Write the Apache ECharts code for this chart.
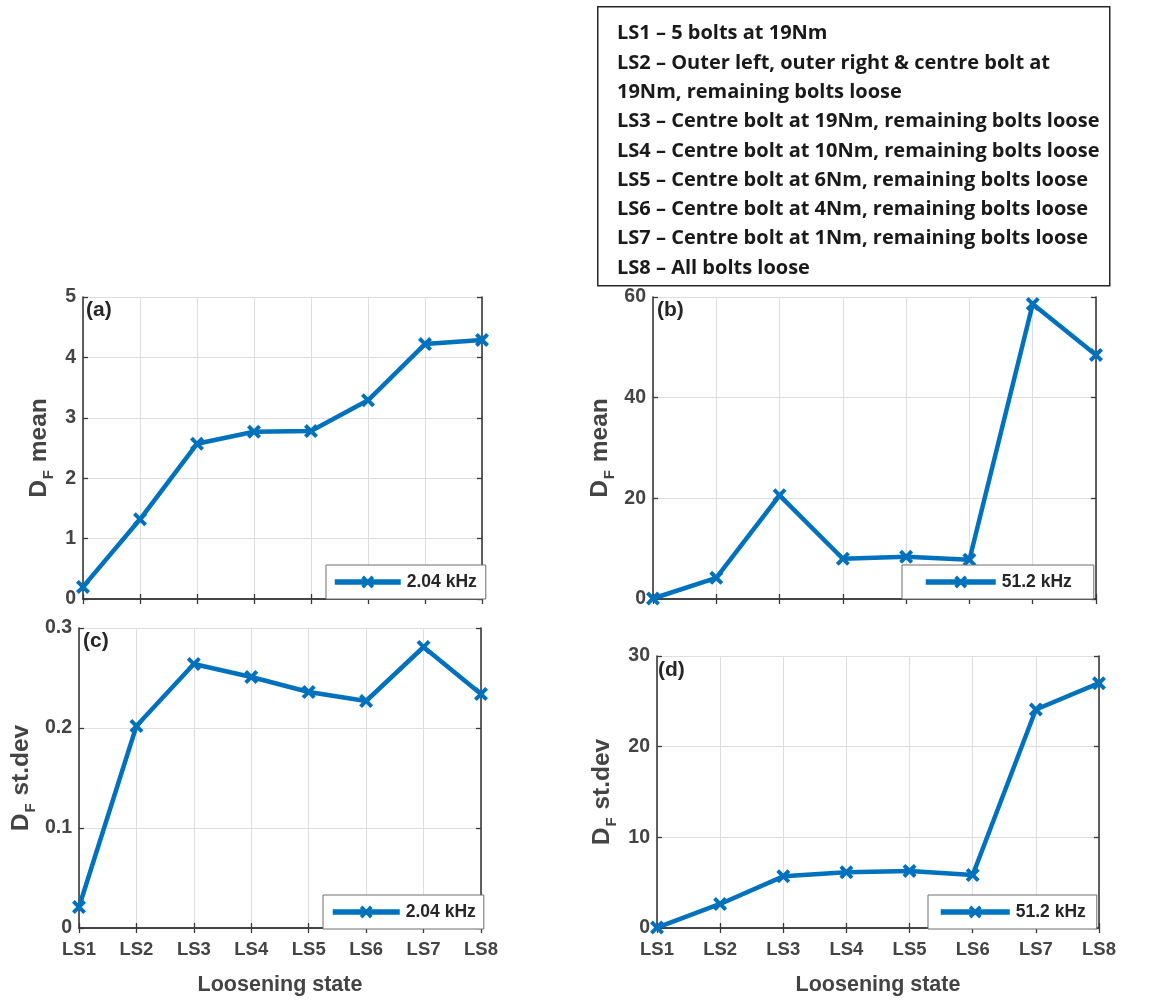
<!DOCTYPE html>
<html><head><meta charset="utf-8">
<script src="https://cdn.jsdelivr.net/npm/echarts@6/dist/echarts.min.js"></script>
<style>html,body{margin:0;padding:0;background:#fff}#c{width:1169px;height:1002px}</style>
</head><body><div id="c"></div>
<script>
// ---------- data ----------
const categories = ['LS1','LS2','LS3','LS4','LS5','LS6','LS7','LS8'];
const meanLow  = [0.20, 1.32, 2.57, 2.77, 2.78, 3.29, 4.22, 4.29];   // (a) 2.04 kHz
const meanHigh = [0.1, 4.2, 20.6, 8.0, 8.4, 7.8, 58.6, 48.5];        // (b) 51.2 kHz
const stdLow   = [0.021, 0.202, 0.264, 0.251, 0.236, 0.227, 0.281, 0.234]; // (c) 2.04 kHz
const stdHigh  = [0.05, 2.65, 5.7, 6.15, 6.3, 5.85, 24.1, 27.0];     // (d) 51.2 kHz
const lowName = '2.04 kHz';
const highName = '51.2 kHz';
const panelLabels = ['(a)','(b)','(c)','(d)'];
const yMax = [5, 60, 0.3, 30];
const yStep = [1, 20, 0.1, 10];
const yNames = ['mean','mean','st.dev','st.dev'];
const xName = 'Loosening state';
const boxLines = [
  'LS1 \u2013 5 bolts at 19Nm',
  'LS2 \u2013 Outer left, outer right & centre bolt at',
  '19Nm, remaining bolts loose',
  'LS3 \u2013 Centre bolt at 19Nm, remaining bolts loose',
  'LS4 \u2013 Centre bolt at 10Nm, remaining bolts loose',
  'LS5 \u2013 Centre bolt at 6Nm, remaining bolts loose',
  'LS6 \u2013 Centre bolt at 4Nm, remaining bolts loose',
  'LS7 \u2013 Centre bolt at 1Nm, remaining bolts loose',
  'LS8 \u2013 All bolts loose'
];

// ---------- style ----------
const FONT = '"Liberation Sans", Arial, sans-serif';
const BLUE = '#0072BD';
const AX = '#3a3a3a';
const LBL = '#444444';
const XSYM = 'path://M2,0 L5,3 L8,0 L10,2 L7,5 L10,8 L8,10 L5,7 L2,10 L0,8 L3,5 L0,2 Z';

const grids = [
  {left: 83, top: 297, width: 399, height: 302},
  {left: 653, top: 297, width: 443, height: 302},
  {left: 79, top: 628, width: 402, height: 300},
  {left: 657, top: 656, width: 442, height: 272}
];
const nameGaps = [29, 38, 43, 40];
const seriesData = [meanLow, meanHigh, stdLow, stdHigh];
const seriesNames = [lowName, highName, lowName, highName];
const legendCfg = [
  {left: 326, top: 565, itemWidth: 66, padding: [8, 9, 8, 6]},
  {left: 902, top: 565, itemWidth: 70, padding: [8, 22, 8, 21]},
  {left: 323, top: 895, itemWidth: 67, padding: [8, 8, 8, 7]},
  {left: 928, top: 895, itemWidth: 69, padding: [8, 11, 8, 10]}
];

const xAxis = [], yAxis = [], series = [], legend = [], title = [];
grids.forEach((g, i) => {
  const showX = i >= 2;
  xAxis.push({
    type: 'category', gridIndex: i, data: categories, boundaryGap: false,
    axisLine: {show: true, lineStyle: {color: AX, width: 1.6}},
    axisTick: {show: true, inside: true, length: 5, lineStyle: {color: AX, width: 1.3}},
    axisLabel: {show: showX, color: LBL, fontSize: 18.5, fontWeight: 'bold', fontFamily: FONT, margin: 12},
    splitLine: {show: true, lineStyle: {color: '#dedede', width: 1}},
    name: showX ? xName : '', nameLocation: 'middle', nameGap: 46,
    nameTextStyle: {color: LBL, fontSize: 21.5, fontWeight: 'bold', fontFamily: FONT}
  });
  xAxis.push({
    type: 'category', gridIndex: i, data: categories, boundaryGap: false, position: 'top',
    axisLine: {show: true, lineStyle: {color: AX, width: 1.6}},
    axisTick: {show: true, inside: true, length: 5, lineStyle: {color: AX, width: 1.3}},
    axisLabel: {show: false}, splitLine: {show: false}
  });
  const fmt = v => (i === 2 ? (v === 0 ? '0' : v.toFixed(1)) : String(Math.round(v)));
  yAxis.push({
    type: 'value', gridIndex: i, min: 0, max: yMax[i], interval: yStep[i],
    axisLine: {show: true, lineStyle: {color: AX, width: 1.6}},
    axisTick: {show: true, inside: true, length: 5, lineStyle: {color: AX, width: 1.3}},
    axisLabel: {color: LBL, fontSize: 19.5, fontWeight: 'bold', fontFamily: FONT, margin: 7, formatter: fmt},
    splitLine: {show: true, lineStyle: {color: '#dedede', width: 1}},
    name: '{d|D}{s|F}{d| ' + yNames[i] + '}', nameLocation: 'middle', nameGap: nameGaps[i],
    nameTextStyle: {
      rich: {
        d: {fontSize: 24.5, fontWeight: 'bold', color: LBL, fontFamily: FONT, verticalAlign: 'top', lineHeight: 27},
        s: {fontSize: 15, fontWeight: 'bold', color: LBL, fontFamily: FONT, verticalAlign: 'top', lineHeight: 17, padding: [14, 1, 0, 1]}
      }
    }
  });
  yAxis.push({
    type: 'value', gridIndex: i, min: 0, max: yMax[i], interval: yStep[i], position: 'right',
    axisLine: {show: true, lineStyle: {color: AX, width: 1.6}},
    axisTick: {show: true, inside: true, length: 5, lineStyle: {color: AX, width: 1.3}},
    axisLabel: {show: false}, splitLine: {show: false}
  });
  series.push({
    type: 'line', name: seriesNames[i], xAxisIndex: 2 * i, yAxisIndex: 2 * i,
    data: seriesData[i], symbol: XSYM, symbolSize: 14, showSymbol: true,
    lineStyle: {color: BLUE, width: 4.5}, itemStyle: {color: BLUE},
    animation: false, clip: false, z: 5
  });
  legend.push(Object.assign({
    data: [seriesNames[i]], orient: 'horizontal', itemHeight: 16, itemGap: 0,
    backgroundColor: '#fff', borderColor: '#6e6e6e', borderWidth: 1, borderRadius: 0,
    lineStyle: {width: 5.5, color: BLUE},
    itemStyle: {color: BLUE},
    textStyle: {color: '#262626', fontSize: 17.5, fontWeight: 'bold', fontFamily: FONT, padding: [0, 0, 0, 1]},
    selectedMode: false, z: 10
  }, legendCfg[i]));
});

const titlePos = [[86, 300], [657, 300], [83, 631], [658, 660]];
panelLabels.forEach((t, i) => {
  title.push({text: t, left: titlePos[i][0], top: titlePos[i][1], padding: 0,
    textStyle: {fontSize: 21, fontWeight: 'bold', color: '#262626', fontFamily: FONT}});
});

const chart = echarts.init(document.getElementById('c'), null, {renderer: 'canvas'});
chart.setOption({
  animation: false,
  backgroundColor: '#fff',
  title, grid: grids, xAxis, yAxis, series, legend,
  graphic: [
    {type: 'rect', left: 597, top: 6, shape: {width: 512, height: 279},
      style: {fill: '#fff', stroke: '#262626', lineWidth: 1.5}, z: 1},
    {type: 'text', left: 617, top: 19, z: 2,
      style: {text: boxLines.join('\n'), font: 'bold 20px "Open Sans", Lato, sans-serif',
        lineHeight: 29.3, fill: '#1a1a1a'}}
  ]
});
</script></body></html>
